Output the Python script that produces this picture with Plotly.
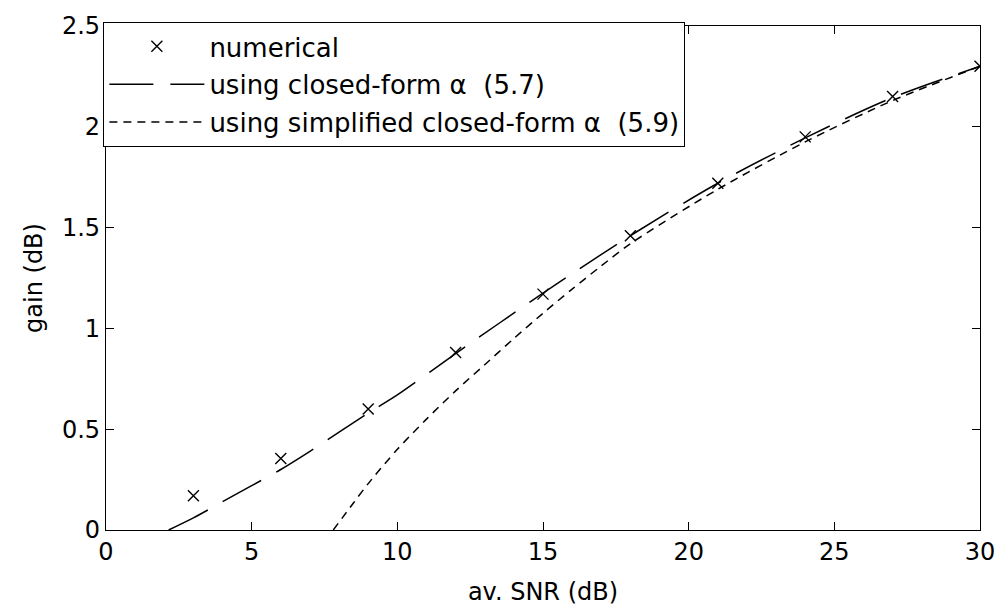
import plotly.graph_objects as go

# numerical points
snr_num = [3, 6, 9, 12, 15, 18, 21, 24, 27, 30]
gain_num = [0.17, 0.355, 0.60, 0.88, 1.17, 1.46, 1.72, 1.95, 2.15, 2.30]

# closed-form alpha (5.7)
snr_cf = [2.15, 3, 4, 5, 6, 7, 8, 9, 10, 12, 15, 18, 21, 24, 27, 30]
gain_cf = [0.0, 0.06, 0.14, 0.22, 0.30, 0.39, 0.485, 0.58, 0.67, 0.875, 1.175, 1.46, 1.72, 1.945, 2.145, 2.30]

# simplified closed-form alpha (5.9)
snr_sc = [7.8, 8.5, 9, 10, 11, 12, 13, 14, 15, 16, 17, 18, 21, 24, 27, 30]
gain_sc = [0.0, 0.135, 0.23, 0.40, 0.55, 0.69, 0.82, 0.95, 1.075, 1.195, 1.31, 1.42, 1.69, 1.925, 2.13, 2.30]

x_ticks = [0, 5, 10, 15, 20, 25, 30]
y_ticks = [0, 0.5, 1, 1.5, 2, 2.5]
y_labels = ["0", "0.5", "1", "1.5", "2", "2.5"]

FONT = "DejaVu Sans, Liberation Sans, Arial, sans-serif"

fig = go.Figure()
fig.add_trace(go.Scatter(
    x=snr_num, y=gain_num, mode="markers", name="numerical",
    marker=dict(symbol="x-thin-open", size=11, color="black",
                line=dict(color="black", width=1.4)),
    legendgroup="a"))
fig.add_trace(go.Scatter(
    x=snr_cf, y=gain_cf, mode="lines", name="using closed-form α  (5.7)",
    line=dict(color="black", width=1.5, dash="44px,17px", shape="spline", smoothing=0.8),
    legendgroup="b"))
fig.add_trace(go.Scatter(
    x=snr_sc, y=gain_sc, mode="lines", name="using simplified closed-form α  (5.9)",
    line=dict(color="black", width=1.5, dash="8px,6px", shape="spline", smoothing=0.8),
    legendgroup="c"))

axis_common = dict(
    showgrid=False, zeroline=False, showline=True, linecolor="black", linewidth=1.3,
    mirror="allticks", ticks="inside", ticklen=8, tickcolor="black", tickwidth=1,
    tickfont=dict(family=FONT, size=24, color="black"),
)

fig.update_layout(
    width=1000, height=608,
    margin=dict(l=106, r=20, t=15, b=78),
    paper_bgcolor="white", plot_bgcolor="white",
    font=dict(family=FONT, size=24, color="black"),
    xaxis=dict(range=[0, 30], tickvals=x_ticks, automargin=False,
               title=dict(text="av. SNR (dB)", font=dict(size=24), standoff=18),
               **axis_common),
    yaxis=dict(range=[0, 2.5], tickvals=y_ticks, ticktext=y_labels,
               title=dict(text="gain (dB)", font=dict(size=24), standoff=12),
               **axis_common),
    legend=dict(x=-0.003, y=1.008, xanchor="left", yanchor="top",
                bgcolor="white", bordercolor="black", borderwidth=1,
                font=dict(size=26), traceorder="grouped", tracegroupgap=1,
                itemwidth=95),
    showlegend=True,
)

fig.write_html("out.html")
